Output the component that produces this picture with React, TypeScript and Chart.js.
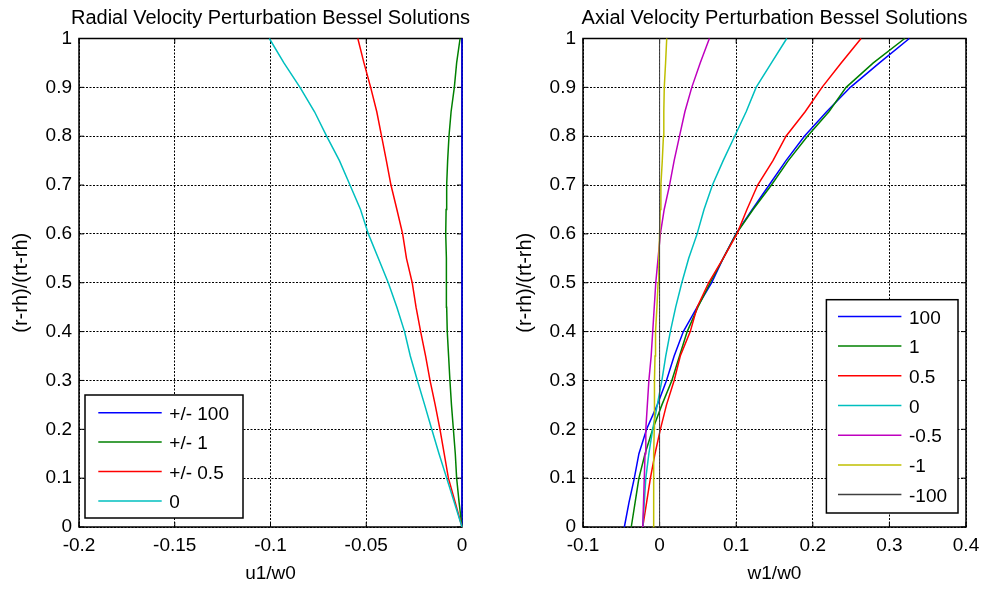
import React, { useEffect, useRef } from 'react';
import { Chart, registerables } from 'chart.js';

Chart.register(...registerables);

const FONT = "'Liberation Sans', Arial, Helvetica, sans-serif";
Chart.defaults.font.family = FONT;
Chart.defaults.color = '#000';

// normalised radius (r-rh)/(rt-rh) at which every series is sampled
const rLevels = [0, 0.05, 0.1, 0.15, 0.2, 0.25, 0.3, 0.35, 0.4, 0.45, 0.5, 0.55, 0.6, 0.65, 0.7, 0.75, 0.8, 0.85, 0.9, 0.95, 1];

// ---------- Radial velocity perturbation (u1/w0) ----------
const radialLabels = ['+/- 100', '+/- 1', '+/- 0.5', '0'];
const radialPm100 = [0, 0, 0, 0, 0, 0, 0, 0, 0, 0, 0, 0, 0, 0, 0, 0, 0, 0, 0, 0, 0];
const radialPm1 = [0, -0.0015, -0.0028, -0.0035, -0.0045, -0.0055, -0.0063, -0.007, -0.0077, -0.008, -0.008, -0.0083, -0.0085, -0.0083, -0.008, -0.0075, -0.0068, -0.0057, -0.004, -0.0028, -0.001];
const radialPm05 = [0, -0.0035, -0.0071, -0.0093, -0.0115, -0.014, -0.0167, -0.019, -0.0216, -0.024, -0.026, -0.029, -0.031, -0.034, -0.0371, -0.0395, -0.042, -0.0445, -0.0477, -0.0512, -0.0544];
const radial0 = [0, -0.004, -0.008, -0.012, -0.0158, -0.0195, -0.0233, -0.027, -0.03, -0.034, -0.0385, -0.0437, -0.0489, -0.053, -0.0585, -0.064, -0.0707, -0.077, -0.0846, -0.093, -0.1006];

// ---------- Axial velocity perturbation (w1/w0) ----------
const axialLabels = ['100', '1', '0.5', '0', '-0.5', '-1', '-100'];
const axial100 = [-0.046, -0.04, -0.033, -0.027, -0.017, -0.003, 0.009, 0.019, 0.031, 0.049, 0.068, 0.083, 0.0996, 0.121, 0.143, 0.165, 0.189, 0.218, 0.249, 0.287, 0.326];
const axial1 = [-0.037, -0.032, -0.027, -0.019, -0.009, 0.003, 0.016, 0.026, 0.036, 0.05, 0.066, 0.083, 0.1, 0.122, 0.146, 0.168, 0.193, 0.221, 0.2435, 0.279, 0.32];
const axial05 = [-0.022, -0.017, -0.012, -0.006, 0.001, 0.009, 0.019, 0.027, 0.04, 0.049, 0.064, 0.083, 0.101, 0.114, 0.128, 0.148, 0.165, 0.19, 0.212, 0.237, 0.263];
const axial0 = [-0.022, -0.02, -0.018, -0.014, -0.009, -0.003, 0.003, 0.008, 0.014, 0.021, 0.029, 0.038, 0.049, 0.058, 0.069, 0.083, 0.098, 0.113, 0.126, 0.146, 0.166];
const axialM05 = [-0.022, -0.021, -0.02, -0.019, -0.018, -0.016, -0.014, -0.011, -0.009, -0.007, -0.005, -0.002, 0.001, 0.006, 0.013, 0.019, 0.026, 0.033, 0.042, 0.053, 0.065];
const axialM1 = [-0.008, -0.008, -0.0078, -0.0074, -0.007, -0.0068, -0.0066, -0.006, -0.0053, -0.0035, -0.002, -0.001, 0, 0.0008, 0.0017, 0.0035, 0.005, 0.0055, 0.0061, 0.0078, 0.0093];
const axialM100 = [0, 0, 0, 0, 0, 0, 0, 0, 0, 0, 0, 0, 0, 0, 0, 0, 0, 0, 0, 0, 0];

// ---------- ticks ----------
const radialXTicks = [-0.2, -0.15, -0.1, -0.05, 0];
const radialXTickLabels = ['-0.2', '-0.15', '-0.1', '-0.05', '0'];
const axialXTicks = [-0.1, 0, 0.1, 0.2, 0.3, 0.4];
const axialXTickLabels = ['-0.1', '0', '0.1', '0.2', '0.3', '0.4'];
const yTicks = [0, 0.1, 0.2, 0.3, 0.4, 0.5, 0.6, 0.7, 0.8, 0.9, 1];
const yTickLabels = ['0', '0.1', '0.2', '0.3', '0.4', '0.5', '0.6', '0.7', '0.8', '0.9', '1'];

const seriesColors = ['#0000ff', '#008000', '#ff0000', '#00bfbf', '#bf00bf', '#bfbf00', '#404040'];
const seriesWidths = [1.5, 1.5, 1.5, 1.5, 1.5, 1.5, 1];

const matlabPlugin = {
  id: 'matlabAxes',
  beforeDatasetsDraw(chart: any) {
    const { ctx, chartArea: a, scales } = chart;
    ctx.save();
    ctx.setLineDash([]);
    ctx.strokeStyle = '#000';
    ctx.lineWidth = 1.5;
    ctx.strokeRect(a.left, a.top, a.right - a.left, a.bottom - a.top);
    const tl = 5;
    ctx.lineWidth = 1;
    ctx.beginPath();
    scales.x.ticks.forEach((t: any) => {
      const px = scales.x.getPixelForValue(t.value);
      ctx.moveTo(px, a.bottom);
      ctx.lineTo(px, a.bottom - tl);
      ctx.moveTo(px, a.top);
      ctx.lineTo(px, a.top + tl);
    });
    scales.y.ticks.forEach((t: any) => {
      const py = scales.y.getPixelForValue(t.value);
      ctx.moveTo(a.left, py);
      ctx.lineTo(a.left + tl, py);
      ctx.moveTo(a.right, py);
      ctx.lineTo(a.right - tl, py);
    });
    ctx.stroke();
    ctx.restore();
  },
  afterDraw(chart: any, _args: any, opts: any) {
    const { ctx, chartArea: a } = chart;
    ctx.save();
    // title, centred over the plot area
    if (opts && opts.title) {
      ctx.font = `20px ${FONT}`;
      ctx.fillStyle = '#000';
      ctx.textAlign = 'center';
      ctx.textBaseline = 'middle';
      ctx.fillText(opts.title, (a.left + a.right) / 2, 18.5);
    }
    const lg = opts && opts.legend;
    if (lg) {
      const x0 = lg.side === 'left' ? a.left + lg.dx : a.right - lg.dx - lg.w;
      const y0 = a.bottom - lg.dy - lg.h;
      ctx.setLineDash([]);
      ctx.fillStyle = '#fff';
      ctx.fillRect(x0, y0, lg.w, lg.h);
      ctx.strokeStyle = '#000';
      ctx.lineWidth = 1.5;
      ctx.strokeRect(x0, y0, lg.w, lg.h);
      ctx.font = `19px ${FONT}`;
      ctx.textBaseline = 'middle';
      ctx.textAlign = 'left';
      chart.data.datasets.forEach((ds: any, i: number) => {
        const y = y0 + lg.firstRow + i * lg.rowGap;
        ctx.strokeStyle = ds.borderColor;
        ctx.lineWidth = 1.5;
        ctx.beginPath();
        ctx.moveTo(x0 + lg.lineX, y);
        ctx.lineTo(x0 + lg.lineX + lg.lineLen, y);
        ctx.stroke();
        ctx.fillStyle = '#000';
        ctx.fillText(ds.label, x0 + lg.textX, y + 2);
      });
    }
    ctx.restore();
  },
};

type PanelSpec = {
  title: string;
  xTitle: string;
  labels: string[];
  series: number[][];
  xMin: number;
  xMax: number;
  xTicks: number[];
  xTickLabels: string[];
  yAxisWidth: number;
  yTitlePad: number;
  padRight: number;
  legend: any;
};

function buildConfig(p: PanelSpec): any {
  return {
    type: 'scatter',
    data: {
      datasets: p.series.map((xs, i) => ({
        label: p.labels[i],
        data: xs.map((x, j) => ({ x, y: rLevels[j] })),
        showLine: true,
        borderColor: seriesColors[i],
        backgroundColor: seriesColors[i],
        borderWidth: seriesWidths[i],
        pointRadius: 0,
        pointHoverRadius: 0,
        tension: 0,
        clip: 3,
        order: -i,
      })),
    },
    options: {
      responsive: false,
      animation: false,
      devicePixelRatio: 1,
      events: [],
      layout: { padding: { left: 0, right: p.padRight, top: 38.5, bottom: 0 } },
      plugins: {
        legend: { display: false },
        tooltip: { enabled: false },
        title: { display: false },
        matlabAxes: { legend: p.legend, title: p.title },
      },
      scales: {
        x: {
          type: 'linear',
          min: p.xMin,
          max: p.xMax,
          afterBuildTicks: (s: any) => {
            s.ticks = p.xTicks.map((v) => ({ value: v }));
          },
          afterFit: (s: any) => {
            s.height = 63;
            s.paddingLeft = 0;
            s.paddingRight = 0;
          },
          ticks: {
            callback: (_v: any, i: number) => p.xTickLabels[i],
            font: { size: 19 },
            color: '#000',
            padding: 7,
            maxRotation: 0,
            autoSkip: false,
          },
          grid: { color: '#000', lineWidth: 1, drawTicks: false },
          border: { display: false, dash: [2, 1.5] },
          title: {
            display: true,
            text: p.xTitle,
            color: '#000',
            font: { size: 19 },
            padding: { top: 0, bottom: 4.6 },
          },
        },
        y: {
          type: 'linear',
          min: 0,
          max: 1,
          afterBuildTicks: (s: any) => {
            s.ticks = yTicks.map((v) => ({ value: v }));
          },
          afterFit: (s: any) => {
            s.width = p.yAxisWidth;
            s.paddingTop = 0;
            s.paddingBottom = 0;
          },
          ticks: {
            callback: (_v: any, i: number) => yTickLabels[i],
            font: { size: 19 },
            color: '#000',
            padding: 7,
            autoSkip: false,
          },
          grid: { color: '#000', lineWidth: 1, drawTicks: false },
          border: { display: false, dash: [2, 1.5] },
          title: {
            display: true,
            text: '(r-rh)/(rt-rh)',
            color: '#000',
            font: { size: 20 },
            padding: { top: p.yTitlePad, bottom: 0 },
          },
        },
      },
    },
    plugins: [matlabPlugin],
  };
}

const radialSpec: PanelSpec = {
  title: 'Radial Velocity Perturbation Bessel Solutions',
  xTitle: 'u1/w0',
  labels: radialLabels,
  series: [radialPm100, radialPm1, radialPm05, radial0],
  xMin: -0.2,
  xMax: 0,
  xTicks: radialXTicks,
  xTickLabels: radialXTickLabels,
  yAxisWidth: 79,
  yTitlePad: 9,
  padRight: 31,
  legend: { side: 'left', dx: 6, dy: 9, w: 158, h: 123, firstRow: 17.7, rowGap: 29.4, lineX: 13.3, lineLen: 63.4, textX: 84.3 },
};

const axialSpec: PanelSpec = {
  title: 'Axial Velocity Perturbation Bessel Solutions',
  xTitle: 'w1/w0',
  labels: axialLabels,
  series: [axial100, axial1, axial05, axial0, axialM05, axialM1, axialM100],
  xMin: -0.1,
  xMax: 0.4,
  xTicks: axialXTicks,
  xTickLabels: axialXTickLabels,
  yAxisWidth: 90,
  yTitlePad: 20,
  padRight: 21,
  legend: { side: 'right', dx: 8, dy: 14, w: 131.6, h: 213.3, firstRow: 16.7, rowGap: 29.7, lineX: 11.6, lineLen: 63.4, textX: 82.6 },
};

function Panel({ spec, left, width }: { spec: PanelSpec; left: number; width: number }) {
  const ref = useRef<HTMLCanvasElement>(null);
  useEffect(() => {
    const chart = new Chart(ref.current as HTMLCanvasElement, buildConfig(spec));
    return () => chart.destroy();
  }, [spec]);
  return (
    <canvas
      ref={ref}
      width={width}
      height={590}
      style={{ position: 'absolute', left, top: 0, width, height: 590, display: 'block' }}
    />
  );
}

export default function App() {
  return (
    <div
      style={{
        position: 'absolute',
        left: 0,
        top: 0,
        width: 987,
        height: 590,
        background: '#fff',
        overflow: 'hidden',
      }}
    >
      <Panel spec={radialSpec} left={0} width={493} />
      <Panel spec={axialSpec} left={493} width={494} />
    </div>
  );
}
